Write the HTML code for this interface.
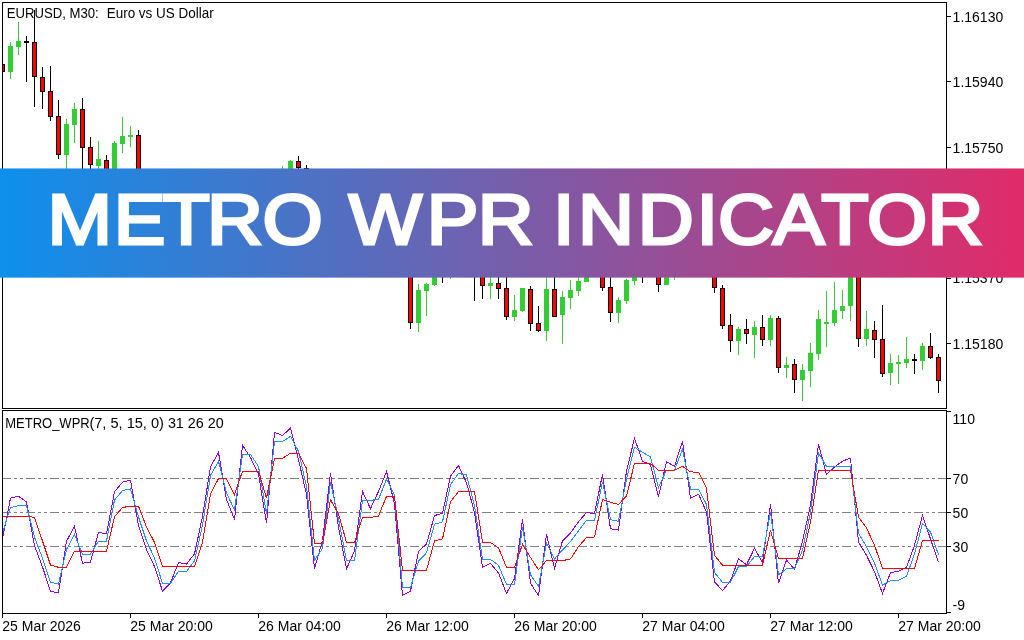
<!DOCTYPE html>
<html lang="en"><head><meta charset="utf-8"><title>Metro WPR Indicator</title>
<style>
html,body{margin:0;padding:0;background:#fff;}
body{width:1024px;height:640px;overflow:hidden;position:relative;font-family:"Liberation Sans",sans-serif;}
svg{position:absolute;left:0;top:0;display:block;}
.t{font-family:"Liberation Sans",sans-serif;font-size:14px;fill:#000;}
</style></head><body>
<svg width="1024" height="640" viewBox="0 0 1024 640">
<rect width="1024" height="640" fill="#fff"/>
<defs><clipPath id="c1"><rect x="3" y="3" width="943" height="405"/></clipPath><clipPath id="c2"><rect x="3" y="411" width="943" height="202"/></clipPath></defs>
<g shape-rendering="crispEdges" clip-path="url(#c1)">
<rect x="0" y="64" width="5" height="8" fill="#000"/>
<rect x="1" y="65" width="3" height="6" fill="#f00"/>
<rect x="10" y="42" width="1" height="37" fill="#32cd32"/>
<rect x="8" y="46" width="5" height="26" fill="#32cd32"/>
<rect x="18" y="22" width="1" height="33" fill="#32cd32"/>
<rect x="16" y="41" width="5" height="6" fill="#32cd32"/>
<rect x="26" y="36" width="1" height="46" fill="#000"/>
<rect x="24" y="41" width="5" height="2" fill="#000"/>
<rect x="34" y="10" width="1" height="97" fill="#000"/>
<rect x="32" y="42" width="5" height="35" fill="#000"/>
<rect x="33" y="43" width="3" height="33" fill="#f00"/>
<rect x="42" y="67" width="1" height="42" fill="#000"/>
<rect x="40" y="77" width="5" height="15" fill="#000"/>
<rect x="41" y="78" width="3" height="13" fill="#f00"/>
<rect x="50" y="66" width="1" height="55" fill="#000"/>
<rect x="48" y="91" width="5" height="26" fill="#000"/>
<rect x="49" y="92" width="3" height="24" fill="#f00"/>
<rect x="58" y="100" width="1" height="59" fill="#000"/>
<rect x="56" y="116" width="5" height="39" fill="#000"/>
<rect x="57" y="117" width="3" height="37" fill="#f00"/>
<rect x="66" y="119" width="1" height="61" fill="#32cd32"/>
<rect x="64" y="124" width="5" height="31" fill="#32cd32"/>
<rect x="74" y="103" width="1" height="40" fill="#32cd32"/>
<rect x="72" y="109" width="5" height="16" fill="#32cd32"/>
<rect x="82" y="98" width="1" height="82" fill="#000"/>
<rect x="80" y="109" width="5" height="39" fill="#000"/>
<rect x="81" y="110" width="3" height="37" fill="#f00"/>
<rect x="90" y="137" width="1" height="43" fill="#000"/>
<rect x="88" y="147" width="5" height="18" fill="#000"/>
<rect x="89" y="148" width="3" height="16" fill="#f00"/>
<rect x="98" y="141" width="1" height="39" fill="#32cd32"/>
<rect x="96" y="159" width="5" height="7" fill="#32cd32"/>
<rect x="106" y="155" width="1" height="35" fill="#000"/>
<rect x="104" y="160" width="5" height="30" fill="#000"/>
<rect x="105" y="161" width="3" height="28" fill="#f00"/>
<rect x="114" y="141" width="1" height="49" fill="#32cd32"/>
<rect x="112" y="143" width="5" height="47" fill="#32cd32"/>
<rect x="122" y="117" width="1" height="36" fill="#32cd32"/>
<rect x="120" y="136" width="5" height="8" fill="#32cd32"/>
<rect x="130" y="126" width="1" height="21" fill="#32cd32"/>
<rect x="128" y="135" width="5" height="2" fill="#32cd32"/>
<rect x="138" y="130" width="1" height="60" fill="#000"/>
<rect x="136" y="135" width="5" height="55" fill="#000"/>
<rect x="137" y="136" width="3" height="53" fill="#f00"/>
<rect x="282" y="166" width="1" height="24" fill="#32cd32"/>
<rect x="280" y="180" width="5" height="5" fill="#32cd32"/>
<rect x="290" y="160" width="1" height="30" fill="#32cd32"/>
<rect x="288" y="161" width="5" height="29" fill="#32cd32"/>
<rect x="298" y="156" width="1" height="24" fill="#000"/>
<rect x="296" y="161" width="5" height="7" fill="#000"/>
<rect x="297" y="162" width="3" height="5" fill="#f00"/>
<rect x="306" y="165" width="1" height="15" fill="#000"/>
<rect x="304" y="168" width="5" height="1" fill="#000"/>
<rect x="410" y="260" width="1" height="69" fill="#000"/>
<rect x="408" y="260" width="5" height="63" fill="#000"/>
<rect x="409" y="261" width="3" height="61" fill="#f00"/>
<rect x="418" y="284" width="1" height="48" fill="#32cd32"/>
<rect x="416" y="290" width="5" height="33" fill="#32cd32"/>
<rect x="426" y="283" width="1" height="33" fill="#32cd32"/>
<rect x="424" y="284" width="5" height="7" fill="#32cd32"/>
<rect x="434" y="260" width="1" height="26" fill="#32cd32"/>
<rect x="432" y="260" width="5" height="25" fill="#32cd32"/>
<rect x="442" y="260" width="1" height="23" fill="#000"/>
<rect x="440" y="260" width="5" height="1" fill="#000"/>
<rect x="450" y="260" width="1" height="19" fill="#32cd32"/>
<rect x="474" y="260" width="1" height="41" fill="#000"/>
<rect x="472" y="260" width="5" height="1" fill="#000"/>
<rect x="482" y="260" width="1" height="39" fill="#000"/>
<rect x="480" y="260" width="5" height="26" fill="#000"/>
<rect x="481" y="261" width="3" height="24" fill="#f00"/>
<rect x="490" y="260" width="1" height="39" fill="#32cd32"/>
<rect x="488" y="283" width="5" height="3" fill="#32cd32"/>
<rect x="498" y="260" width="1" height="39" fill="#000"/>
<rect x="496" y="283" width="5" height="6" fill="#000"/>
<rect x="497" y="284" width="3" height="4" fill="#f00"/>
<rect x="506" y="260" width="1" height="60" fill="#000"/>
<rect x="504" y="288" width="5" height="29" fill="#000"/>
<rect x="505" y="289" width="3" height="27" fill="#f00"/>
<rect x="514" y="295" width="1" height="26" fill="#32cd32"/>
<rect x="512" y="310" width="5" height="7" fill="#32cd32"/>
<rect x="522" y="288" width="1" height="24" fill="#32cd32"/>
<rect x="520" y="288" width="5" height="23" fill="#32cd32"/>
<rect x="530" y="286" width="1" height="45" fill="#000"/>
<rect x="528" y="289" width="5" height="35" fill="#000"/>
<rect x="529" y="290" width="3" height="33" fill="#f00"/>
<rect x="538" y="306" width="1" height="26" fill="#000"/>
<rect x="536" y="323" width="5" height="8" fill="#000"/>
<rect x="537" y="324" width="3" height="6" fill="#f00"/>
<rect x="546" y="260" width="1" height="81" fill="#32cd32"/>
<rect x="544" y="289" width="5" height="42" fill="#32cd32"/>
<rect x="554" y="260" width="1" height="57" fill="#000"/>
<rect x="552" y="289" width="5" height="28" fill="#000"/>
<rect x="553" y="290" width="3" height="26" fill="#f00"/>
<rect x="562" y="291" width="1" height="53" fill="#32cd32"/>
<rect x="560" y="297" width="5" height="18" fill="#32cd32"/>
<rect x="570" y="280" width="1" height="29" fill="#32cd32"/>
<rect x="568" y="290" width="5" height="8" fill="#32cd32"/>
<rect x="578" y="260" width="1" height="36" fill="#32cd32"/>
<rect x="576" y="281" width="5" height="10" fill="#32cd32"/>
<rect x="586" y="260" width="1" height="22" fill="#32cd32"/>
<rect x="584" y="260" width="5" height="22" fill="#32cd32"/>
<rect x="602" y="260" width="1" height="31" fill="#000"/>
<rect x="600" y="260" width="5" height="28" fill="#000"/>
<rect x="601" y="261" width="3" height="26" fill="#f00"/>
<rect x="610" y="260" width="1" height="62" fill="#000"/>
<rect x="608" y="287" width="5" height="26" fill="#000"/>
<rect x="609" y="288" width="3" height="24" fill="#f00"/>
<rect x="618" y="297" width="1" height="26" fill="#32cd32"/>
<rect x="616" y="300" width="5" height="13" fill="#32cd32"/>
<rect x="626" y="279" width="1" height="25" fill="#32cd32"/>
<rect x="624" y="280" width="5" height="21" fill="#32cd32"/>
<rect x="634" y="260" width="1" height="25" fill="#32cd32"/>
<rect x="632" y="260" width="5" height="21" fill="#32cd32"/>
<rect x="642" y="260" width="1" height="23" fill="#000"/>
<rect x="640" y="260" width="5" height="1" fill="#000"/>
<rect x="658" y="260" width="1" height="32" fill="#000"/>
<rect x="656" y="260" width="5" height="25" fill="#000"/>
<rect x="657" y="261" width="3" height="23" fill="#f00"/>
<rect x="666" y="260" width="1" height="25" fill="#32cd32"/>
<rect x="664" y="260" width="5" height="25" fill="#32cd32"/>
<rect x="674" y="260" width="1" height="20" fill="#32cd32"/>
<rect x="714" y="260" width="1" height="33" fill="#000"/>
<rect x="712" y="260" width="5" height="28" fill="#000"/>
<rect x="713" y="261" width="3" height="26" fill="#f00"/>
<rect x="722" y="285" width="1" height="44" fill="#000"/>
<rect x="720" y="288" width="5" height="38" fill="#000"/>
<rect x="721" y="289" width="3" height="36" fill="#f00"/>
<rect x="730" y="314" width="1" height="38" fill="#000"/>
<rect x="728" y="325" width="5" height="16" fill="#000"/>
<rect x="729" y="326" width="3" height="14" fill="#f00"/>
<rect x="738" y="327" width="1" height="28" fill="#32cd32"/>
<rect x="736" y="329" width="5" height="12" fill="#32cd32"/>
<rect x="746" y="319" width="1" height="25" fill="#000"/>
<rect x="744" y="329" width="5" height="5" fill="#000"/>
<rect x="745" y="330" width="3" height="3" fill="#f00"/>
<rect x="754" y="321" width="1" height="37" fill="#32cd32"/>
<rect x="752" y="327" width="5" height="8" fill="#32cd32"/>
<rect x="762" y="315" width="1" height="31" fill="#000"/>
<rect x="760" y="327" width="5" height="13" fill="#000"/>
<rect x="761" y="328" width="3" height="11" fill="#f00"/>
<rect x="770" y="315" width="1" height="31" fill="#32cd32"/>
<rect x="768" y="318" width="5" height="22" fill="#32cd32"/>
<rect x="778" y="316" width="1" height="57" fill="#000"/>
<rect x="776" y="318" width="5" height="50" fill="#000"/>
<rect x="777" y="319" width="3" height="48" fill="#f00"/>
<rect x="786" y="357" width="1" height="21" fill="#32cd32"/>
<rect x="784" y="365" width="5" height="3" fill="#32cd32"/>
<rect x="794" y="359" width="1" height="34" fill="#000"/>
<rect x="792" y="364" width="5" height="16" fill="#000"/>
<rect x="793" y="365" width="3" height="14" fill="#f00"/>
<rect x="802" y="364" width="1" height="37" fill="#32cd32"/>
<rect x="800" y="370" width="5" height="10" fill="#32cd32"/>
<rect x="810" y="343" width="1" height="44" fill="#32cd32"/>
<rect x="808" y="353" width="5" height="18" fill="#32cd32"/>
<rect x="818" y="310" width="1" height="50" fill="#32cd32"/>
<rect x="816" y="319" width="5" height="35" fill="#32cd32"/>
<rect x="826" y="291" width="1" height="56" fill="#32cd32"/>
<rect x="824" y="322" width="5" height="2" fill="#32cd32"/>
<rect x="834" y="282" width="1" height="44" fill="#32cd32"/>
<rect x="832" y="310" width="5" height="13" fill="#32cd32"/>
<rect x="842" y="290" width="1" height="29" fill="#32cd32"/>
<rect x="840" y="306" width="5" height="5" fill="#32cd32"/>
<rect x="850" y="260" width="1" height="61" fill="#32cd32"/>
<rect x="848" y="260" width="5" height="46" fill="#32cd32"/>
<rect x="858" y="260" width="1" height="87" fill="#000"/>
<rect x="856" y="260" width="5" height="79" fill="#000"/>
<rect x="857" y="261" width="3" height="77" fill="#f00"/>
<rect x="866" y="311" width="1" height="35" fill="#32cd32"/>
<rect x="864" y="329" width="5" height="10" fill="#32cd32"/>
<rect x="874" y="321" width="1" height="37" fill="#000"/>
<rect x="872" y="330" width="5" height="10" fill="#000"/>
<rect x="873" y="331" width="3" height="8" fill="#f00"/>
<rect x="882" y="305" width="1" height="72" fill="#000"/>
<rect x="880" y="339" width="5" height="35" fill="#000"/>
<rect x="881" y="340" width="3" height="33" fill="#f00"/>
<rect x="890" y="354" width="1" height="31" fill="#32cd32"/>
<rect x="888" y="363" width="5" height="10" fill="#32cd32"/>
<rect x="898" y="355" width="1" height="29" fill="#32cd32"/>
<rect x="896" y="362" width="5" height="2" fill="#32cd32"/>
<rect x="906" y="337" width="1" height="31" fill="#32cd32"/>
<rect x="904" y="359" width="5" height="4" fill="#32cd32"/>
<rect x="914" y="354" width="1" height="20" fill="#000"/>
<rect x="912" y="359" width="5" height="2" fill="#000"/>
<rect x="922" y="343" width="1" height="27" fill="#32cd32"/>
<rect x="920" y="346" width="5" height="15" fill="#32cd32"/>
<rect x="930" y="333" width="1" height="26" fill="#000"/>
<rect x="928" y="346" width="5" height="12" fill="#000"/>
<rect x="929" y="347" width="3" height="10" fill="#f00"/>
<rect x="938" y="354" width="1" height="39" fill="#000"/>
<rect x="936" y="357" width="5" height="24" fill="#000"/>
<rect x="937" y="358" width="3" height="22" fill="#f00"/>
</g>
<g shape-rendering="crispEdges" fill="#000">
<rect x="2" y="2" width="945" height="1"/>
<rect x="2" y="2" width="1" height="407"/>
<rect x="2" y="410" width="1" height="204"/>
<rect x="946" y="2" width="1" height="407"/>
<rect x="2" y="408" width="945" height="1"/>
<rect x="2" y="410" width="945" height="1"/>
<rect x="946" y="410" width="1" height="204"/>
<rect x="2" y="613" width="945" height="1"/>
<rect x="947" y="16" width="4" height="1"/>
<rect x="947" y="81" width="4" height="1"/>
<rect x="947" y="147" width="4" height="1"/>
<rect x="947" y="212" width="4" height="1"/>
<rect x="947" y="278" width="4" height="1"/>
<rect x="947" y="343" width="4" height="1"/>
<rect x="947" y="411" width="4" height="1"/>
<rect x="947" y="478" width="4" height="1"/>
<rect x="947" y="512" width="4" height="1"/>
<rect x="947" y="546" width="4" height="1"/>
<rect x="947" y="612" width="4" height="1"/>
<rect x="2" y="614" width="1" height="4"/>
<rect x="130" y="614" width="1" height="4"/>
<rect x="258" y="614" width="1" height="4"/>
<rect x="386" y="614" width="1" height="4"/>
<rect x="514" y="614" width="1" height="4"/>
<rect x="642" y="614" width="1" height="4"/>
<rect x="770" y="614" width="1" height="4"/>
<rect x="898" y="614" width="1" height="4"/>
</g>
<g shape-rendering="crispEdges" stroke="#808080" stroke-width="1" stroke-dasharray="9 3 3 3 3 3" clip-path="url(#c2)">
<line x1="2" y1="478.5" x2="946" y2="478.5"/>
<line x1="2" y1="512.5" x2="946" y2="512.5"/>
<line x1="2" y1="546.5" x2="946" y2="546.5"/>
</g>
<g fill="none" stroke-width="1" stroke-linejoin="miter" clip-path="url(#c2)" shape-rendering="crispEdges">
<polyline stroke="#9400d3" points="2.5,538.8 10.5,498.1 18.5,496.2 26.5,502.0 34.5,545.8 42.5,566.9 50.5,591.4 58.5,592.7 66.5,541.3 74.5,526.4 82.5,563.3 90.5,562.0 98.5,532.3 106.5,533.8 114.5,491.9 122.5,482.2 130.5,480.2 138.5,525.5 146.5,549.7 154.5,566.5 162.5,591.1 170.5,582.8 178.5,562.5 186.5,564.0 194.5,553.9 202.5,516.5 210.5,466.9 218.5,452.5 226.5,499.5 234.5,519.5 242.5,445.3 250.5,457.5 258.5,474.0 266.5,523.4 274.5,432.2 282.5,435.6 290.5,428.1 298.5,459.5 306.5,494.5 314.5,568.8 322.5,540.5 330.5,473.4 338.5,527.0 346.5,568.8 354.5,551.0 362.5,491.4 370.5,508.6 378.5,491.4 386.5,471.4 394.5,503.5 402.5,595.5 410.5,591.1 418.5,551.2 426.5,544.2 434.5,515.6 442.5,513.3 450.5,476.2 458.5,465.4 466.5,482.8 474.5,512.5 482.5,567.3 490.5,563.4 498.5,573.0 506.5,593.4 514.5,578.6 522.5,519.5 530.5,583.3 538.5,595.5 546.5,534.4 554.5,568.4 562.5,540.8 570.5,533.0 578.5,521.7 586.5,512.5 594.5,513.8 602.5,474.2 610.5,528.8 618.5,530.0 626.5,471.0 634.5,438.3 642.5,461.2 650.5,464.8 658.5,496.6 666.5,461.7 674.5,466.4 682.5,441.1 690.5,498.1 698.5,494.2 706.5,512.0 714.5,581.9 722.5,590.5 730.5,581.0 738.5,558.8 746.5,564.7 754.5,548.3 762.5,562.3 770.5,504.4 778.5,583.4 786.5,560.0 794.5,569.4 802.5,541.2 810.5,505.0 818.5,444.0 826.5,474.7 834.5,466.9 842.5,461.2 850.5,458.1 858.5,542.0 866.5,555.3 874.5,571.7 882.5,593.5 890.5,572.6 898.5,571.2 906.5,567.6 914.5,545.3 922.5,515.3 930.5,539.0 938.5,562.5"/>
<polyline stroke="#1e90ff" points="2.5,532.5 10.5,507.5 18.5,505.6 26.5,505.6 34.5,537.2 42.5,558.3 50.5,582.2 58.5,584.0 66.5,549.5 74.5,534.5 82.5,554.2 90.5,554.2 98.5,541.2 106.5,541.2 114.5,500.0 122.5,490.6 130.5,489.0 138.5,516.9 146.5,541.0 154.5,558.0 162.5,583.3 170.5,583.3 178.5,571.4 186.5,571.4 194.5,561.0 202.5,525.0 210.5,475.5 218.5,461.4 226.5,493.0 234.5,510.0 242.5,454.4 250.5,454.4 258.5,466.5 266.5,514.0 274.5,441.5 282.5,441.5 290.5,436.4 298.5,451.3 306.5,486.5 314.5,560.3 322.5,548.5 330.5,482.0 338.5,518.8 346.5,560.6 354.5,560.6 362.5,500.5 370.5,500.5 378.5,499.2 386.5,479.4 394.5,495.0 402.5,587.5 410.5,587.5 418.5,561.0 426.5,552.8 434.5,524.3 442.5,521.8 450.5,484.7 458.5,473.4 466.5,475.0 474.5,505.5 482.5,559.4 490.5,559.4 498.5,565.3 506.5,584.4 514.5,584.4 522.5,527.2 530.5,574.7 538.5,586.4 546.5,543.2 554.5,559.0 562.5,550.0 570.5,541.6 578.5,530.7 586.5,520.4 594.5,520.4 602.5,482.0 610.5,519.7 618.5,521.2 626.5,479.0 634.5,447.2 642.5,452.3 650.5,457.0 658.5,487.5 666.5,470.0 674.5,470.0 682.5,449.2 690.5,489.0 698.5,489.0 706.5,504.5 714.5,572.5 722.5,582.3 730.5,582.3 738.5,566.6 746.5,566.6 754.5,556.5 762.5,556.5 770.5,511.7 778.5,574.8 786.5,568.6 794.5,568.6 802.5,550.3 810.5,512.5 818.5,453.1 826.5,466.4 834.5,466.4 842.5,466.4 850.5,466.4 858.5,533.4 866.5,546.7 874.5,563.0 882.5,585.1 890.5,580.6 898.5,580.2 906.5,576.2 914.5,554.0 922.5,523.4 930.5,532.0 938.5,554.7"/>
<polyline stroke="#ff0000" points="2.5,516.4 10.5,516.4 18.5,516.4 26.5,516.4 34.5,517.3 42.5,541.0 50.5,565.0 58.5,567.3 66.5,567.3 74.5,551.2 82.5,551.2 90.5,551.2 98.5,551.2 106.5,551.2 114.5,516.9 122.5,507.5 130.5,506.2 138.5,506.2 146.5,527.0 154.5,542.4 162.5,566.4 170.5,566.4 178.5,566.4 186.5,566.4 194.5,566.4 202.5,542.2 210.5,494.0 218.5,478.6 226.5,478.6 234.5,494.7 242.5,471.2 250.5,471.2 258.5,471.2 266.5,498.1 274.5,458.2 282.5,458.2 290.5,453.3 298.5,453.3 306.5,468.5 314.5,543.4 322.5,543.4 330.5,499.7 338.5,514.0 346.5,542.3 354.5,542.3 362.5,517.5 370.5,517.5 378.5,516.0 386.5,496.4 394.5,496.4 402.5,570.3 410.5,570.3 418.5,570.3 426.5,570.3 434.5,540.8 442.5,538.9 450.5,502.0 458.5,491.4 466.5,491.4 474.5,491.4 482.5,542.3 490.5,542.5 498.5,547.8 506.5,567.3 514.5,567.3 522.5,544.3 530.5,557.5 538.5,569.7 546.5,560.6 554.5,560.6 562.5,560.6 570.5,559.0 578.5,546.6 586.5,537.5 594.5,537.0 602.5,499.5 610.5,502.3 618.5,504.4 626.5,496.0 634.5,463.3 642.5,463.3 650.5,463.3 658.5,470.3 666.5,470.3 674.5,470.0 682.5,466.4 690.5,471.9 698.5,472.3 706.5,488.3 714.5,555.3 722.5,565.2 730.5,565.2 738.5,565.2 746.5,565.2 754.5,565.2 762.5,565.2 770.5,530.3 778.5,558.4 786.5,558.4 794.5,558.4 802.5,558.4 810.5,522.0 818.5,470.3 826.5,470.3 834.5,470.3 842.5,470.3 850.5,470.3 858.5,517.0 866.5,528.0 874.5,545.2 882.5,568.4 890.5,568.4 898.5,568.4 906.5,568.4 914.5,568.4 922.5,540.6 930.5,540.6 938.5,540.6"/>
</g>
<g class="t">
<text x="6.7" y="17.8" textLength="92" lengthAdjust="spacingAndGlyphs">EURUSD, M30:</text>
<text x="106.7" y="17.8" textLength="107" lengthAdjust="spacingAndGlyphs">Euro vs US Dollar</text>
<text x="5.2" y="427.7" textLength="84.5" lengthAdjust="spacingAndGlyphs">METRO_WPR</text>
<text x="89.4" y="427.7" textLength="74.5" lengthAdjust="spacingAndGlyphs">(7, 5, 15, 0)</text>
<text x="167.9" y="427.7" textLength="55.8" lengthAdjust="spacingAndGlyphs">31 26 20</text>
<text x="952.6" y="22">1.16130</text>
<text x="952.6" y="87">1.15940</text>
<text x="952.6" y="153">1.15750</text>
<text x="952.6" y="218">1.15560</text>
<text x="952.6" y="283">1.15370</text>
<text x="952.6" y="349">1.15180</text>
<text x="952.6" y="424.2">110</text>
<text x="952.6" y="484">70</text>
<text x="952.6" y="518">50</text>
<text x="952.6" y="552">30</text>
<text x="952.6" y="609.5">-9</text>
<text x="2.3" y="630.9">25 Mar 2026</text>
<text x="130.3" y="630.9">25 Mar 20:00</text>
<text x="258.3" y="630.9">26 Mar 04:00</text>
<text x="386.3" y="630.9">26 Mar 12:00</text>
<text x="514.3" y="630.9">26 Mar 20:00</text>
<text x="642.3" y="630.9">27 Mar 04:00</text>
<text x="770.3" y="630.9">27 Mar 12:00</text>
<text x="898.3" y="630.9">27 Mar 20:00</text>
</g>
</svg>
<svg width="1024" height="640" viewBox="0 0 1024 640" style="pointer-events:none">
<defs><linearGradient id="bg" x1="0" y1="0" x2="1" y2="0"><stop offset="0" stop-color="#0d90ec"/><stop offset="1" stop-color="#e12b69"/></linearGradient></defs>
<rect x="0" y="168.45" width="1024" height="109.2" fill="url(#bg)"/>
<g transform="scale(1.095,1)" font-family="Liberation Sans, sans-serif" font-weight="normal" font-size="70.8" fill="#fff" stroke="#fff" stroke-width="3.0" stroke-linejoin="miter">
<text x="43.4 103.8 148.3 189.1 239.8" y="243.6">METRO</text>
<text x="318.6 389.8 436.4" y="243.6">WPR</text>
<text x="505.0 527.8 582.4 636.0 655.7 705.7 750.0 791.9 847.1" y="243.6">INDICATOR</text>
</g>
</svg>
</body></html>
